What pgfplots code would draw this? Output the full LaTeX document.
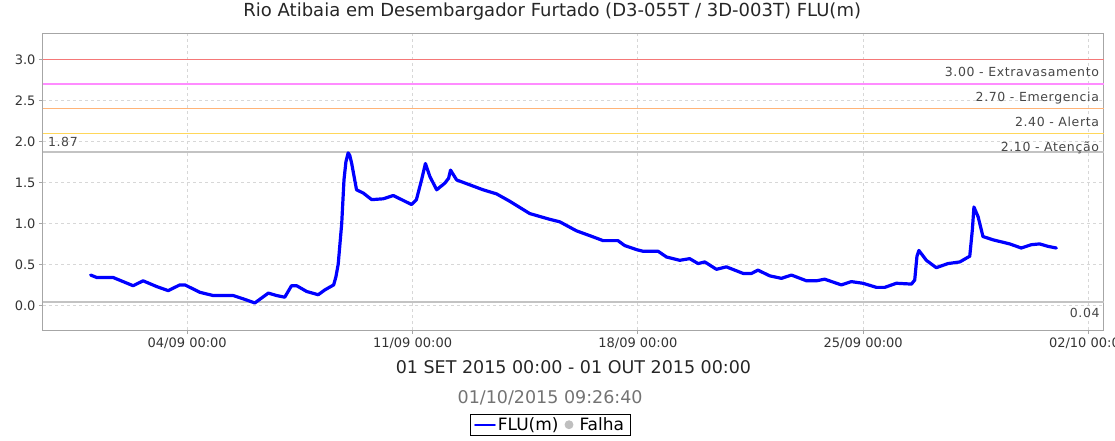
\documentclass[border=0pt]{standalone}
\usepackage{fontspec}
\setmainfont{DejaVu Sans}
\newfontfamily\lblfont[LetterSpace=5]{DejaVu Sans}
\usepackage{pgfplots}
\pgfplotsset{compat=1.18}

\definecolor{levelA}{RGB}{245,120,120}
\definecolor{levelB}{RGB}{255,140,255}
\definecolor{levelC}{RGB}{255,180,120}
\definecolor{levelD}{RGB}{255,215,90}
\definecolor{levelE}{RGB}{195,195,195}
\definecolor{txtgray}{RGB}{70,70,70}
\definecolor{gridgray}{RGB}{215,215,215}

\begin{document}
\begin{tikzpicture}
\useasboundingbox (-43pt,-111pt) rectangle (1072pt,330pt);
\begin{axis}[
    scale only axis,
    width=1061pt, height=296pt,
    xmin=-1.48, xmax=31.48,
    ymin=-0.30, ymax=3.31,
    xtick={3,10,17,24,31},
    xticklabels={04/09 00:00,11/09 00:00,18/09 00:00,25/09 00:00,02/10 00:00},
    ytick={0,0.5,1,1.5,2,2.5,3},
    yticklabel style={/pgf/number format/.cd, fixed, fixed zerofill, precision=1, assume math mode=true},
    tick label style={font=\fontsize{13}{15}\selectfont, text=black!80},
    tick align=outside, major tick length=4pt,
    xtick pos=bottom, ytick pos=left,
    tick style={gray!70, line width=0.8pt},
    axis line style={gray!70, line width=1pt},
    grid=major,
    major grid style={gridgray, dash pattern=on 3pt off 3pt, line width=0.8pt},
    title={Rio Atibaia em Desembargador Furtado (D3-055T / 3D-003T) FLU(m)},
    title style={font=\fontsize{18}{20}\selectfont, text=black!85, at={(0.48,1.054)}, anchor=center},
    xlabel={01 SET 2015 00:00 - 01 OUT 2015 00:00},
    xlabel style={font=\fontsize{17.5}{19}\selectfont, text=black!85, at={(axis description cs:0.5,-0.125)}, anchor=center},
    legend style={at={(0.478,-0.32)}, anchor=center, legend columns=2, draw=black, line width=0.8pt,
        font=\fontsize{17}{19}\selectfont, inner xsep=4pt, inner ysep=1pt,
        /tikz/every even column/.append style={column sep=4pt}},
    legend cell align=left,
    clip=false,
]
% threshold levels
\addplot[color=levelA, line width=1.4pt, forget plot] coordinates {(-1.48,3.00) (31.48,3.00)};
\addplot[color=levelB, line width=1.4pt, forget plot] coordinates {(-1.48,2.70) (31.48,2.70)};
\addplot[color=levelC, line width=1.4pt, forget plot] coordinates {(-1.48,2.40) (31.48,2.40)};
\addplot[color=levelD, line width=1.4pt, forget plot] coordinates {(-1.48,2.10) (31.48,2.10)};
\addplot[color=levelE, line width=1.4pt, forget plot] coordinates {(-1.48,1.87) (31.48,1.87)};
\addplot[color=levelE, line width=1.4pt, forget plot] coordinates {(-1.48,0.04) (31.48,0.04)};

\addplot[blue, line width=3.2pt, line join=round, line cap=round,
    legend image code/.code={\draw[blue, line width=1.6pt] (0pt,0pt) -- (20pt,0pt);}] coordinates {
(0.00,0.37) (0.19,0.34) (0.70,0.34) (1.01,0.29) (1.32,0.24) (1.63,0.30)
(2.05,0.23) (2.41,0.18) (2.77,0.25) (2.93,0.25) (3.39,0.16) (3.81,0.12)
(4.43,0.12) (4.74,0.08) (5.10,0.03) (5.31,0.09) (5.52,0.15) (5.78,0.12)
(6.03,0.10) (6.24,0.24) (6.40,0.24) (6.71,0.17) (7.07,0.13) (7.28,0.19)
(7.55,0.25) (7.62,0.35) (7.69,0.50) (7.80,1.00) (7.87,1.53) (7.93,1.75)
(8.00,1.86) (8.05,1.83) (8.11,1.73) (8.26,1.41) (8.47,1.37) (8.73,1.29)
(9.09,1.30) (9.40,1.34) (9.66,1.29) (9.97,1.23) (10.12,1.29) (10.28,1.53)
(10.40,1.73) (10.54,1.57) (10.75,1.41) (11.00,1.49) (11.12,1.55) (11.18,1.65)
(11.37,1.53) (11.78,1.47) (12.19,1.41) (12.61,1.36) (13.02,1.27) (13.64,1.12)
(14.26,1.05) (14.57,1.02) (15.09,0.91) (15.51,0.85) (15.92,0.79) (16.38,0.79)
(16.59,0.73) (16.96,0.68) (17.16,0.66) (17.63,0.66) (17.89,0.59) (18.30,0.55)
(18.61,0.57) (18.87,0.51) (19.08,0.53) (19.44,0.44) (19.75,0.47) (20.27,0.39)
(20.53,0.39) (20.73,0.43) (21.10,0.36) (21.46,0.33) (21.77,0.37) (22.24,0.30)
(22.55,0.30) (22.80,0.32) (23.32,0.25) (23.63,0.29) (23.99,0.27) (24.41,0.22)
(24.67,0.22) (25.03,0.27) (25.50,0.26) (25.60,0.31) (25.67,0.60) (25.73,0.67)
(25.96,0.55) (26.27,0.46) (26.63,0.51) (27.00,0.53) (27.31,0.60) (27.39,0.92)
(27.44,1.20) (27.57,1.08) (27.72,0.84) (28.03,0.80) (28.55,0.75) (28.91,0.70)
(29.22,0.74) (29.48,0.75) (29.74,0.72) (30.00,0.70)
};
\addlegendentry{FLU(m)}
\addlegendimage{legend image code/.code={\path[draw=none, fill=none] (0pt,0pt) -- (13pt,0pt); \fill[black!25] (4.5pt,0pt) circle (4pt);}}
\addlegendentry{Falha}

% level labels
\node[anchor=north east, font=\lblfont\fontsize{12.5}{14}\selectfont, text=txtgray, inner sep=0pt] at (axis cs:31.33,2.902) {3.00 - Extravasamento};
\node[anchor=north east, font=\lblfont\fontsize{12.5}{14}\selectfont, text=txtgray, inner sep=0pt] at (axis cs:31.33,2.602) {2.70 - Emergencia};
\node[anchor=north east, font=\lblfont\fontsize{12.5}{14}\selectfont, text=txtgray, inner sep=0pt] at (axis cs:31.33,2.302) {2.40 - Alerta};
\node[anchor=north east, font=\lblfont\fontsize{12.5}{14}\selectfont, text=txtgray, inner sep=0pt] at (axis cs:31.33,2.002) {2.10 - Atenção};
\node[anchor=south west, font=\lblfont\fontsize{12.5}{14}\selectfont, text=txtgray, inner sep=0pt] at (axis cs:-1.33,1.93) {1.87};
\node[anchor=north east, font=\lblfont\fontsize{12.5}{14}\selectfont, text=txtgray, inner sep=0pt] at (axis cs:31.35,-0.03) {0.04};
% timestamp
\node[anchor=center, font=\fontsize{17.5}{19}\selectfont, text=black!55] at (axis description cs:0.478,-0.23) {01/10/2015 09:26:40};
\end{axis}
\end{tikzpicture}
\end{document}
